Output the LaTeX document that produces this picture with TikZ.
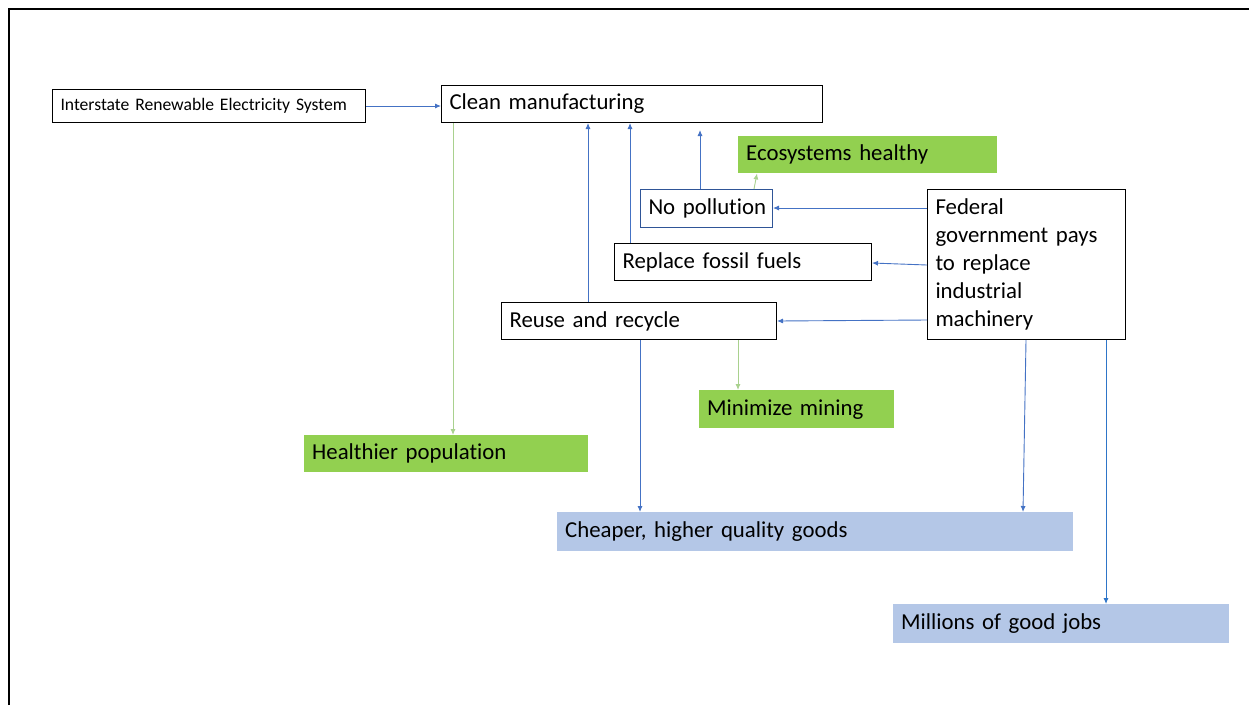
\documentclass[tikz,border=0pt]{standalone}
\usepackage{fontspec}
\setmainfont{Carlito}[Ligatures=NoCommon]
\usetikzlibrary{arrows.meta}
\definecolor{lineblue}{HTML}{4472C4}
\definecolor{jobblue}{HTML}{2E75C8}
\definecolor{linegreen}{HTML}{A9D18E}
\definecolor{fillgreen}{HTML}{92D050}
\definecolor{fillblue}{HTML}{B4C7E7}
\definecolor{navy}{HTML}{2F5597}
\begin{document}
\begin{tikzpicture}[x=1pt,y=-1pt,
  basebox/.style={anchor=north west, inner xsep=8pt, inner ysep=0pt, align=left,
    font=\fontsize{22.8}{28}\selectfont},
  whitebox/.style={basebox, draw=black, line width=1pt, fill=white},
  greenbox/.style={basebox, fill=fillgreen},
  bluebox/.style={basebox, fill=fillblue},
  barrow/.style={draw=lineblue, line width=0.9pt, -{Latex[length=6pt,width=5pt]}},
  garrow/.style={draw=linegreen, line width=0.9pt, -{Latex[length=6pt,width=5pt]}},
  jarrow/.style={draw=jobblue, line width=0.9pt, -{Latex[length=6pt,width=5pt]}},
]
\useasboundingbox (0,0) rectangle (1249,705);
\draw[line width=2pt] (9,705) -- (9,9) -- (1249,9);

\node[whitebox, font=\fontsize{17.6}{20}\selectfont, minimum width=313pt, minimum height=33pt, text width=297pt] (inter) at (52,89) {Interstate Renewable Electricity System};
\node[whitebox, minimum width=381pt, minimum height=37pt, text width=365pt] (clean) at (441,85) {Clean manufacturing};
\node[greenbox, minimum width=259pt, minimum height=37pt, text width=243pt] (eco) at (738,136) {Ecosystems healthy};
\node[whitebox, draw=navy, minimum width=132pt, minimum height=38pt, text width=116pt] (nopol) at (640,189) {\mbox{No pollution}};
\node[whitebox, minimum width=198pt, minimum height=150pt, text width=182pt] (federal) at (927,189) {Federal\\government pays\\to replace\\industrial\\machinery};
\node[whitebox, minimum width=257pt, minimum height=37pt, text width=241pt] (replace) at (614,243) {Replace fossil fuels};
\node[whitebox, minimum width=275pt, minimum height=37pt, text width=259pt] (reuse) at (501,302) {Reuse and recycle};
\node[greenbox, minimum width=195pt, minimum height=38pt, text width=179pt] (mining) at (699,390) {Minimize mining};
\node[greenbox, minimum width=284pt, minimum height=37pt, text width=268pt] (health) at (304,435) {Healthier population};
\node[bluebox, minimum width=516pt, minimum height=39pt, text width=500pt] (cheap) at (557,512) {Cheaper, higher quality goods};
\node[bluebox, minimum width=336pt, minimum height=39pt, text width=320pt] (jobs) at (893,604) {Millions of good jobs};

\coordinate (npend) at (700,130);

\draw[barrow] (inter.east) -- (inter.east -| clean.west);
\draw[garrow] (clean.south -| 453,0) -- (health.north -| 453,0);
\draw[barrow] (reuse.north -| 588,0) -- (clean.south -| 588,0);
\draw[barrow] (replace.north -| 630,0) -- (clean.south -| 630,0);
\draw[barrow] (nopol.north -| 700,0) -- (npend);
\draw[garrow] (nopol.north -| 754,0) -- (eco.south -| 757,0);
\draw[barrow] (federal.west |- 0,208) -- (nopol.east |- 0,208);
\draw[barrow] (federal.west |- 0,265) -- (replace.east |- 0,263);
\draw[barrow] (federal.west |- 0,320) -- (reuse.east |- 0,321);
\draw[garrow] (reuse.south -| 738,0) -- (mining.north -| 738,0);
\draw[barrow] (reuse.south -| 640,0) -- (cheap.north -| 640,0);
\draw[barrow] (federal.south -| 1026,0) -- (cheap.north -| 1023,0);
\draw[jarrow] (federal.south -| 1106,0) -- (jobs.north -| 1106,0);
\end{tikzpicture}
\end{document}
